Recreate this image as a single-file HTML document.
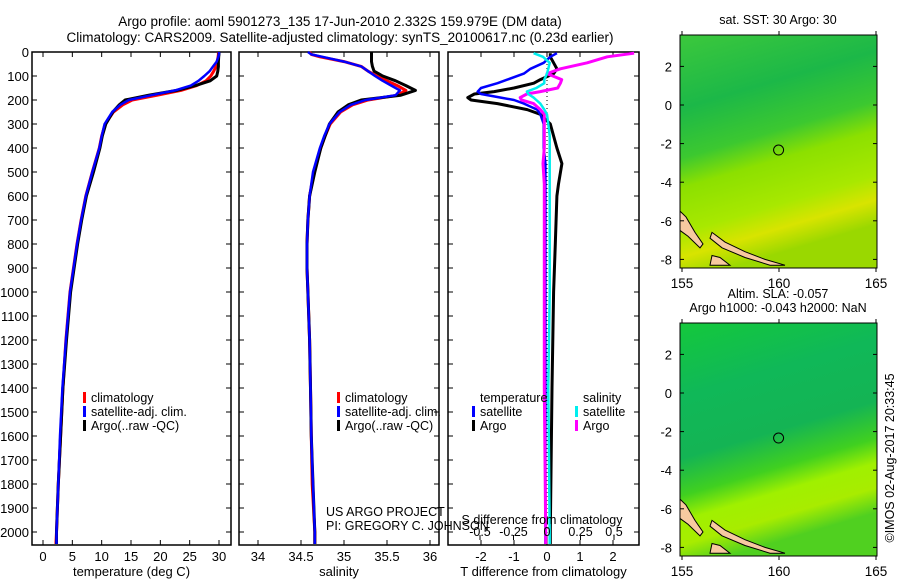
<!DOCTYPE html>
<html><head><meta charset="utf-8"><style>
body{margin:0;background:#fff;}
svg{display:block;font-family:"Liberation Sans",sans-serif;}
text{fill:#000;}
</style></head><body>
<svg id="fig" width="900" height="580" viewBox="0 0 900 580">
<g font-size="13.5" text-anchor="middle">
<text x="340" y="26">Argo profile: aoml 5901273_135 17-Jun-2010 2.332S 159.979E (DM data)</text>
<text x="340" y="42">Climatology: CARS2009. Satellite-adjusted climatology: synTS_20100617.nc (0.23d earlier)</text>
</g>
<g id="plots"></g>
</svg>
<script>
// ---- data ----
const depths = [0,10,20,40,60,80,100,120,140,160,180,200,220,250,300,350,400,500,600,700,800,900,1000,1200,1400,1600,1800,2000,2050];
const tempClim = [29.9,29.9,29.85,29.7,29.5,29.1,28.6,27.8,26.2,23.5,19.5,15.2,13.6,12.0,10.6,10.0,9.6,8.4,7.3,6.5,5.8,5.2,4.6,3.9,3.4,3.0,2.6,2.3,2.2];
const tempSat = [30.0,30.0,29.9,29.6,29.0,28.4,27.5,26.5,25.2,22.5,18.5,14.6,13.2,11.8,10.5,10.0,9.6,8.4,7.3,6.5,5.8,5.2,4.6,3.9,3.3,2.9,2.6,2.3,2.3];
const tempArgo = [30.0,30.0,29.95,29.9,29.9,29.8,29.6,28.5,26.0,22.8,18.0,14.0,13.0,11.9,10.7,10.1,9.7,8.6,7.4,6.6,5.9,5.3,4.7,4.0,3.4,3.0,2.6,2.3,2.3];
const salClim = [34.6,34.62,34.72,35.0,35.2,35.28,35.38,35.5,35.62,35.72,35.62,35.28,35.1,34.96,34.84,34.78,34.73,34.65,34.6,34.58,34.57,34.57,34.58,34.6,34.61,34.62,34.63,34.66,34.66];
const salSat = [34.58,34.62,34.75,35.0,35.2,35.28,35.36,35.45,35.55,35.65,35.6,35.25,35.08,34.95,34.83,34.77,34.72,34.64,34.6,34.58,34.57,34.57,34.58,34.6,34.61,34.62,34.64,34.66,34.66];
const salArgo = [35.32,35.32,35.32,35.32,35.33,35.35,35.45,35.6,35.72,35.83,35.66,35.2,35.05,34.93,34.83,34.78,34.73,34.66,34.6,34.58,34.57,34.57,34.58,34.6,34.61,34.62,34.64,34.66,34.66];
const dDepths = [5,20,45,70,90,115,130,150,165,175,190,200,215,240,260,300,350,400,465,550,600,800,1000,1400,2000,2050];
const dTsat = [0.3,0.1,-0.1,-0.5,-0.7,-1.2,-1.5,-2.0,-2.1,-2.0,-1.4,-1.0,-0.7,-0.3,-0.2,-0.1,-0.1,-0.1,-0.05,-0.05,-0.05,-0.05,-0.05,-0.05,-0.05,-0.05];
const dTargo = [0.1,0.1,0.2,0.3,0.2,-0.2,-0.4,-1.0,-1.6,-2.2,-2.4,-2.3,-1.5,-0.6,-0.2,0.1,0.2,0.3,0.45,0.35,0.3,0.25,0.2,0.15,0.1,0.1];
const dSsat = [-0.1,-0.03,0.02,0.01,0.0,-0.02,-0.02,-0.08,-0.15,-0.14,-0.1,-0.08,-0.05,-0.02,0.0,0.01,0.02,0.02,0.02,0.02,0.02,0.02,0.02,0.01,0.02,0.02];
const dSargo = [0.65,0.45,0.3,0.1,0.0,0.11,0.1,0.08,-0.05,-0.15,-0.2,-0.19,-0.1,-0.05,-0.02,-0.02,-0.02,-0.02,-0.03,-0.02,-0.02,-0.02,-0.02,-0.02,-0.01,-0.01];
const depthTicks = [0,100,200,300,400,500,600,700,800,900,1000,1100,1200,1300,1400,1500,1600,1700,1800,1900,2000];
const tempTicks = [0,5,10,15,20,25,30];
const salTicks = [34,34.5,35,35.5,36];
const tdTicks = [-2,-1,0,1,2];
const sdTicks = [-0.5,-0.25,0,0.25,0.5];
const latTicks = [2,0,-2,-4,-6,-8];
const lonTicks = [155,160,165];

const NS='http://www.w3.org/2000/svg';
const root=document.getElementById('plots');
function el(tag,attrs,parent){const e=document.createElementNS(NS,tag);for(const k in attrs)e.setAttribute(k,attrs[k]);(parent||root).appendChild(e);return e;}
function txt(x,y,s,attrs,parent){const t=el('text',Object.assign({x:x,y:y},attrs||{}),parent);t.textContent=s;return t;}

const Y0=52, YS=0.24, YB=545;
const yD=d=>Y0+d*YS;
const xT=v=>43+v*5.867;
const xS=v=>258+(v-34)*86;
const xTd=v=>547+v*33;
const xSd=v=>547+v*134;

function panel(name,x0,x1,ticks,xf,label,showDepth){
  const g=el('g',{});
  
  
  el('rect',{x:x0,y:Y0,width:x1-x0,height:YB-Y0,fill:'none',stroke:'#000','stroke-width':1.5},g);
  depthTicks.forEach(d=>{
    el('line',{x1:x0,x2:x0+5,y1:yD(d),y2:yD(d),stroke:'#000'},g);
    el('line',{x1:x1-5,x2:x1,y1:yD(d),y2:yD(d),stroke:'#000'},g);
    if(showDepth){const t=txt(x0-3,yD(d)+5,String(d),{'font-size':13,'text-anchor':'end'},g);
      
      }
  });
  ticks.forEach(v=>{
    el('line',{x1:xf(v),x2:xf(v),y1:YB,y2:YB-5,stroke:'#000'},g);
    el('line',{x1:xf(v),x2:xf(v),y1:Y0,y2:Y0+5,stroke:'#000'},g);
    const t=txt(xf(v),YB+16,String(v),{'font-size':13,'text-anchor':'middle'},g);
    
    
  });
  if(label){const t=txt((x0+x1)/2,YB+31,label,{'font-size':13,'text-anchor':'middle'},g);
    
    }
  return g;
}
function line(g,xs,ds,xf,color,w,name){
  const pts=xs.map((v,i)=>xf(v).toFixed(1)+','+yD(ds[i]).toFixed(1)).join(' ');
  const p=el('polyline',{points:pts,fill:'none',stroke:color,'stroke-width':w,'stroke-linejoin':'round'},g);
  
  
}
function legend(g,x,y,items){
  items.forEach((it,i)=>{
    el('rect',{x:x,y:y+i*14-10,width:3,height:11,fill:it[1]},g);
    txt(x+8,y+i*14,it[0],{'font-size':12.5},g);
  });
}
// panel 1
const p1=panel('temperature-panel',32,231,tempTicks,xT,'temperature (deg C)',true);
line(p1,tempClim,depths,xT,'#f00',3,'temp-climatology-line');
line(p1,tempArgo,depths,xT,'#000',3,'temp-argo-line');
line(p1,tempSat,depths,xT,'#00f',2.5,'temp-satellite-line');
legend(p1,83,402,[['climatology','#f00'],['satellite-adj. clim.','#00f'],['Argo(..raw -QC)','#000']]);
// panel 2
const p2=panel('salinity-panel',239,439,salTicks,xS,'salinity',false);
line(p2,salClim,depths,xS,'#f00',3,'sal-climatology-line');
line(p2,salArgo,depths,xS,'#000',3,'sal-argo-line');
line(p2,salSat,depths,xS,'#00f',2.5,'sal-satellite-line');
legend(p2,337,402,[['climatology','#f00'],['satellite-adj. clim.','#00f'],['Argo(..raw -QC)','#000']]);
txt(326,516,'US ARGO PROJECT',{'font-size':12.5},p2);
txt(326,530,'PI: GREGORY C. JOHNSON',{'font-size':12.5},p2);
// panel 3
const p3=panel('difference-panel',448,639,tdTicks,xTd,'T difference from climatology',false);
sdTicks.forEach(v=>el('line',{x1:xSd(v),x2:xSd(v),y1:YB-5,y2:YB-10,stroke:'#000'},p3));
el('line',{x1:xTd(0),x2:xTd(0),y1:Y0,y2:YB,stroke:'#000','stroke-dasharray':'1,3'},p3);
line(p3,dTargo,dDepths,xTd,'#000',3,'tdiff-argo-line');
line(p3,dTsat,dDepths,xTd,'#00f',2.5,'tdiff-satellite-line');
line(p3,dSargo,dDepths,xSd,'#f0f',3,'sdiff-argo-line');
line(p3,dSsat,dDepths,xSd,'#0ee',2.5,'sdiff-satellite-line');
sdTicks.forEach(v=>txt(xSd(v),536,String(v),{'font-size':12.5,'text-anchor':'middle'},p3));
txt(542,524,'S difference from climatology',{'font-size':12.5,'text-anchor':'middle'},p3);
txt(480,402,'temperature',{'font-size':12.5},p3);
txt(583,402,'salinity',{'font-size':12.5},p3);
legend(p3,472,416,[['satellite','#00f'],['Argo','#000']]);
legend(p3,575,416,[['satellite','#0ee'],['Argo','#f0f']]);

// ---- maps ----
const lonX=v=>682+(v-155)*19.4;
function map(name,top,title,grads){
  const g=el('g',{});
  
  
  const latY=v=>top+70+(0-v)*19.3;
  const id=name+'-grad';
  const defs=el('defs',{},g);
  const lg=el('linearGradient',{id:id,x1:0,y1:0,x2:0.25,y2:1},defs);
  grads.forEach(s=>el('stop',{offset:s[0],'stop-color':s[1]},lg));
  const x0=680,x1=877,y0=top,y1=top+233;
  el('rect',{x:x0,y:y0,width:x1-x0,height:y1-y0,fill:'url(#'+id+')'},g);
  el('polygon',{points:[[680,latY(-5.5)],[686,latY(-5.8)],[695,latY(-6.6)],[703,latY(-7.2)],[700,latY(-7.4)],[688,latY(-6.8)],[680,latY(-6.5)]].join(' '),fill:'#f7c9a0',stroke:'#000'},g);
  el('polygon',{points:[[712,latY(-6.6)],[725,latY(-7.1)],[745,latY(-7.6)],[765,latY(-8.0)],[785,latY(-8.3)],[770,latY(-8.3)],[745,latY(-7.9)],[722,latY(-7.4)],[710,latY(-6.9)]].join(' '),fill:'#f7c9a0',stroke:'#000'},g);
  el('polygon',{points:[[712,latY(-7.8)],[720,latY(-7.9)],[730,latY(-8.3)],[710,latY(-8.3)]].join(' '),fill:'#f7c9a0',stroke:'#000'},g);
  el('rect',{x:x0,y:y0,width:x1-x0,height:y1-y0,fill:'none',stroke:'#000'},g);
  el('circle',{cx:lonX(159.979),cy:latY(-2.332),r:5,fill:'none',stroke:'#000'},g);
  latTicks.forEach(v=>{
    el('line',{x1:x0,x2:x0+4,y1:latY(v),y2:latY(v),stroke:'#000'},g);
    el('line',{x1:x1-4,x2:x1,y1:latY(v),y2:latY(v),stroke:'#000'},g);
    txt(672,latY(v)+5,String(v),{'font-size':13,'text-anchor':'end'},g);
  });
  lonTicks.forEach(v=>{
    el('line',{x1:lonX(v),x2:lonX(v),y1:y0,y2:y0-4,stroke:'#000'},g);
    el('line',{x1:lonX(v),x2:lonX(v),y1:y1,y2:y1+4,stroke:'#000'},g);
    txt(lonX(v),y1+20,String(v),{'font-size':13.5,'text-anchor':'middle'},g);
  });
  title.forEach((t,i)=>txt(778,top-11+i*14-(title.length-1)*14,t,{'font-size':12.5,'text-anchor':'middle'},g));
  return g;
}
map('sst-map',35,['sat. SST: 30 Argo: 30'],[[0,'#3cc83c'],[0.3,'#1cb848'],[0.5,'#3cc830'],[0.62,'#8ce000'],[0.8,'#a8e800'],[0.9,'#d8e400'],[1,'#9ad800']]);
map('sla-map',323,['Altim. SLA: -0.057','Argo h1000: -0.043 h2000: NaN'],[[0,'#14c83c'],[0.3,'#10b858'],[0.55,'#14b454'],[0.7,'#40d020'],[0.8,'#a0f000'],[0.9,'#a8ec00'],[1,'#50d020']]);
const cr=txt(0,0,'©IMOS 02-Aug-2017 20:33:45',{'font-size':12.5,'text-anchor':'middle',transform:'translate(894,458) rotate(-90)'});


</script>
</body></html>
